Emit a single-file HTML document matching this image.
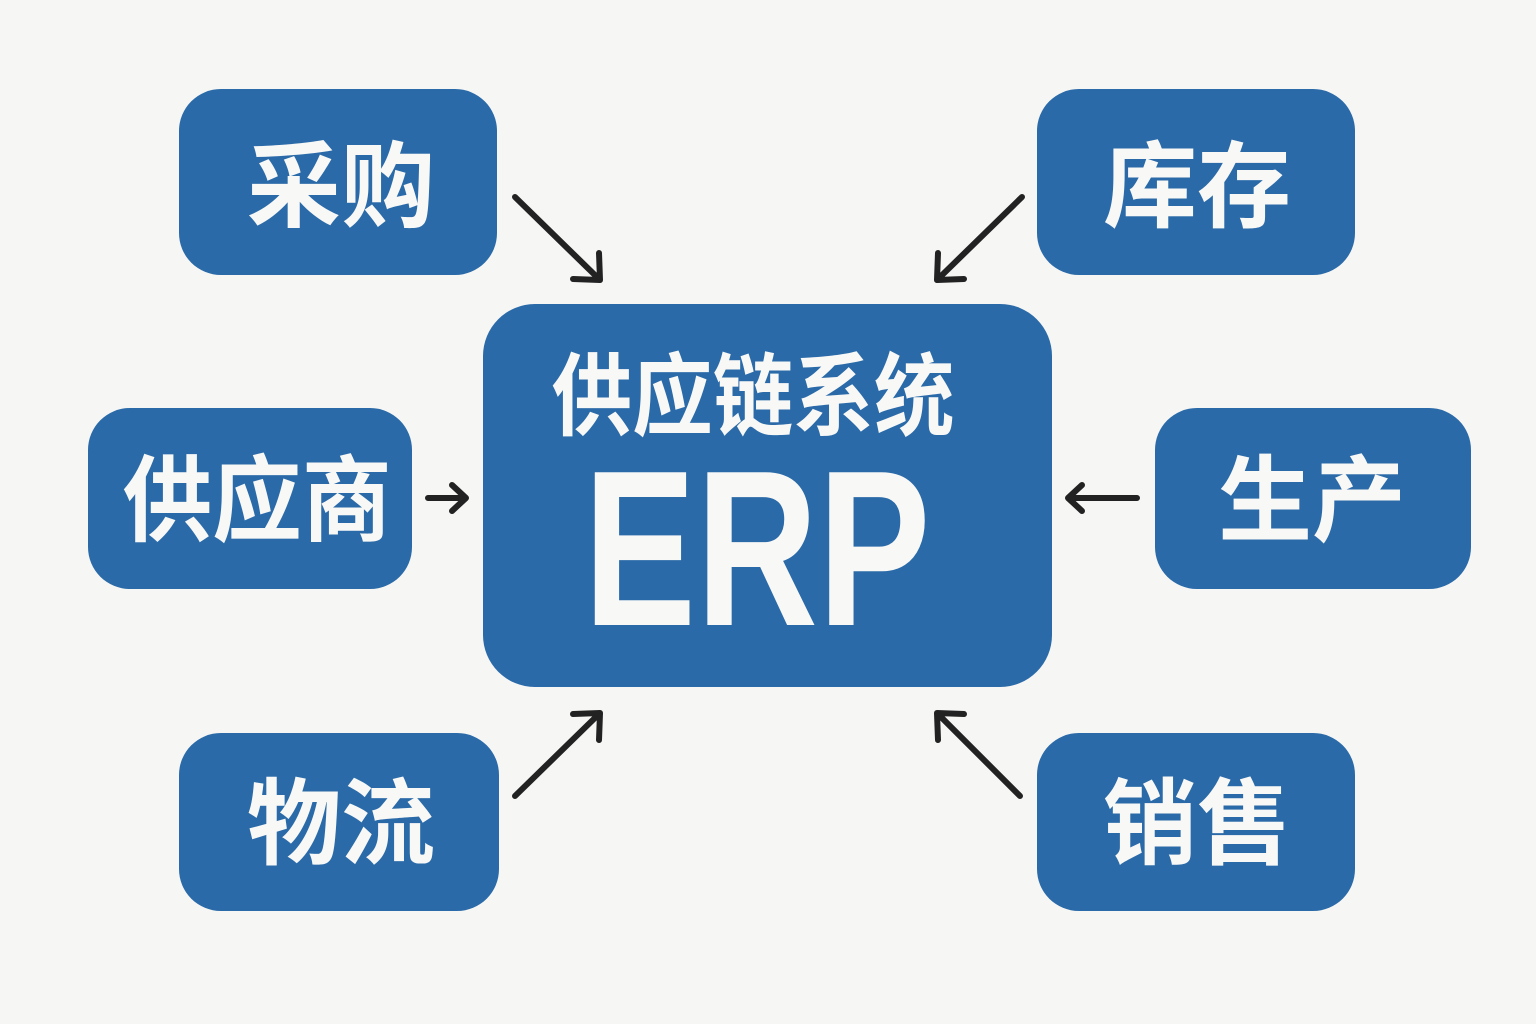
<!DOCTYPE html>
<html><head><meta charset="utf-8"><style>
html,body{margin:0;padding:0;background:#f6f6f4;}
svg{display:block}
text{font-family:"Liberation Sans","Noto Sans CJK SC",sans-serif;font-weight:bold;fill:#f8f8f6;}
</style></head><body>
<svg width="1536" height="1024" viewBox="0 0 1536 1024" xmlns="http://www.w3.org/2000/svg">
<rect width="1536" height="1024" fill="#f6f6f4"/>
<g fill="#2a6aa8">
<rect x="179" y="89" width="318" height="186" rx="42"/>
<rect x="1037" y="89" width="318" height="186" rx="42"/>
<rect x="88" y="408" width="324" height="181" rx="42"/>
<rect x="1155" y="408" width="316" height="181" rx="42"/>
<rect x="179" y="733" width="320" height="178" rx="42"/>
<rect x="1037" y="733" width="318" height="178" rx="42"/>
<rect x="483" y="304" width="569" height="383" rx="52"/>
</g>
<g font-size="94" text-anchor="middle" dominant-baseline="central">
<text x="341" y="187">采购</text>
<text x="1197" y="187">库存</text>
<text x="257" y="501" textLength="269" lengthAdjust="spacingAndGlyphs">供应商</text>
<text x="1312" y="501">生产</text>
<text x="341" y="824">物流</text>
<text x="1197" y="824">销售</text>
<text x="753" y="398" font-size="90" textLength="403" lengthAdjust="spacingAndGlyphs">供应链系统</text>
</g>
<text x="757" y="625" font-size="222" text-anchor="middle" textLength="347" lengthAdjust="spacingAndGlyphs">ERP</text>
<g stroke="#222" stroke-width="6" fill="none" stroke-linecap="round" stroke-linejoin="round">
<path d="M515 197 L600 280 M573 279 L600 280 L599 253"/>
<path d="M1022 197 L937 280 M964 279 L937 280 L938 253"/>
<path d="M428 498 L466 498 M452 485 L466 498 L452 511"/>
<path d="M1137 498 L1068 498 M1082 485 L1068 498 L1082 511"/>
<path d="M515 796 L600 713 M573 714 L600 713 L599 740"/>
<path d="M1020 796 L937 713 M964 714 L937 713 L938 740"/>
</g>
</svg>
</body></html>
